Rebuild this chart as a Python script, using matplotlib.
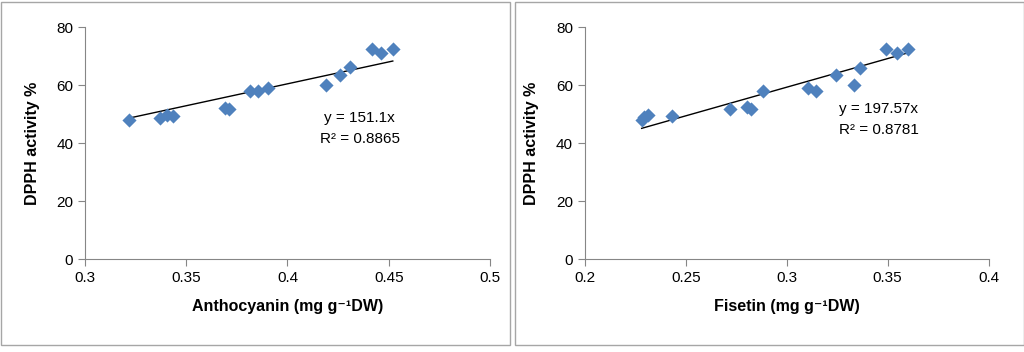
import matplotlib
matplotlib.use('Agg')
import matplotlib.pyplot as plt
from matplotlib.patches import Rectangle

plt.rcParams['font.family'] = ['Liberation Sans Narrow', 'Liberation Sans', 'DejaVu Sans']

# anthocyanin panel
antho_x = [0.3218, 0.3371, 0.3407, 0.3437, 0.3692, 0.3712, 0.3813, 0.3854,
           0.3903, 0.4190, 0.4258, 0.4311, 0.4418, 0.4464, 0.4520]
antho_y = [48.0, 48.7, 49.6, 49.2, 52.1, 51.8, 58.0, 57.9,
           59.0, 59.9, 63.4, 66.1, 72.6, 71.0, 72.3]
antho_slope = 151.1
antho_r2 = 0.8865

# fisetin panel
fis_x = [0.2282, 0.2295, 0.2312, 0.2431, 0.2721, 0.2804, 0.2824, 0.2883,
         0.3104, 0.3143, 0.3243, 0.3334, 0.3364, 0.3491, 0.3546, 0.3599]
fis_y = [48.1, 49.0, 49.8, 49.5, 51.8, 52.5, 51.8, 58.0,
         59.0, 57.9, 63.4, 59.9, 66.0, 72.6, 71.0, 72.3]
fis_slope = 197.57
fis_r2 = 0.8781

fig = plt.figure(figsize=(10.24, 3.52), dpi=100)

# panel frames
for x0 in [0.0, 0.5015]:
    fig.patches.append(Rectangle((x0 + 0.001, 0.02), 0.4975, 0.975, transform=fig.transFigure,
                                 fill=False, edgecolor='#a6a6a6', linewidth=1))

def panel(rect, xs, ys, slope, r2, xlim, xticks, xlabel, txt_xy):
    ax = fig.add_axes(rect)
    ax.scatter(xs, ys, marker='D', s=52, color='#4f81bd', zorder=3, linewidths=0)
    lx = [min(xs), max(xs)]
    ax.plot(lx, [slope * v for v in lx], color='black', linewidth=1, zorder=2)
    ax.set_xlim(xlim)
    ax.set_ylim(0, 80)
    ax.set_xticks(xticks)
    ax.set_xticklabels([('%g' % t) for t in xticks])
    ax.set_yticks([0, 20, 40, 60, 80])
    for s in ['top', 'right']:
        ax.spines[s].set_visible(False)
    for s in ['left', 'bottom']:
        ax.spines[s].set_color('#868686')
    ax.tick_params(axis='both', colors='#868686', labelcolor='black', labelsize=11,
                   length=5, direction='out')
    ax.set_xlabel(xlabel, fontsize=11.5, fontweight='bold', labelpad=10)
    ax.set_ylabel('DPPH activity %', fontsize=11.5, fontweight='bold', labelpad=12)
    ax.text(txt_xy[0], txt_xy[1], 'y = %gx' % slope, ha='center', va='center', fontsize=11)
    ax.text(txt_xy[0], txt_xy[1] - 7.3, 'R\u00b2 = %.4f' % r2, ha='center', va='center', fontsize=11)
    return ax

panel([0.083, 0.264, 0.3955, 0.659], antho_x, antho_y, antho_slope, antho_r2,
      (0.3, 0.5), [0.3, 0.35, 0.4, 0.45, 0.5], 'Anthocyanin (mg g\u207b\u00b9DW)', (0.4356, 48.6))
panel([0.571, 0.264, 0.3945, 0.659], fis_x, fis_y, fis_slope, fis_r2,
      (0.2, 0.4), [0.2, 0.25, 0.3, 0.35, 0.4], 'Fisetin (mg g\u207b\u00b9DW)', (0.3455, 51.8))

fig.savefig('out.png', dpi=100)
